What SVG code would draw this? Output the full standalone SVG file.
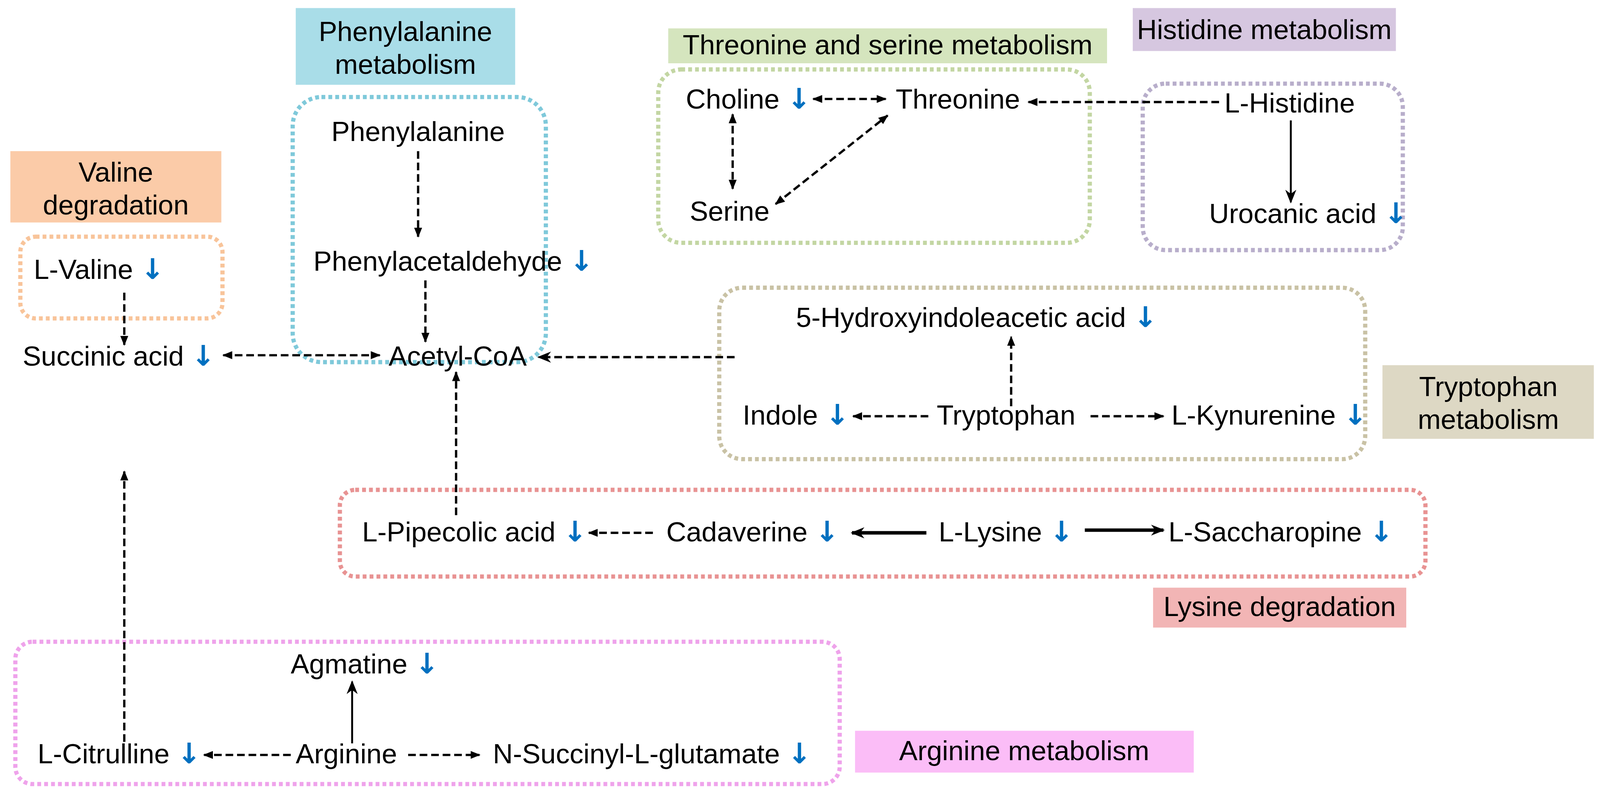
<svg xmlns="http://www.w3.org/2000/svg" width="4170" height="2071" viewBox="0 0 4170 2071">
<style>
text{font-family:"Liberation Sans",Arial,sans-serif;font-size:72px;fill:#000}
.lbl{text-anchor:middle}
.dn{font-family:"DejaVu Sans",sans-serif;font-size:74px;fill:#0070C0;font-weight:bold}
.box{fill:none;stroke-width:11;stroke-dasharray:10 8}
.d{fill:none;stroke:#000;stroke-width:6;stroke-dasharray:20 10}
.s{fill:none;stroke:#000;stroke-width:5}
.t{fill:none;stroke:#000;stroke-width:9}
</style>
<defs>
<marker id="ah" markerUnits="userSpaceOnUse" markerWidth="26" markerHeight="26" viewBox="0 0 10 10" refX="9" refY="5" orient="auto-start-reverse"><path d="M0,1 L10,5 L0,9 Z" fill="#000"/></marker>
<marker id="ah2" markerUnits="userSpaceOnUse" markerWidth="36" markerHeight="36" viewBox="0 0 10 10" refX="9" refY="5" orient="auto-start-reverse"><path d="M0,1 L10,5 L0,9 L3,5 Z" fill="#000"/></marker>
</defs>
<g transform="scale(0.982)">
<g id="labels">
<rect x="771" y="21" width="572" height="200" fill="#A9DDE8"/>
<text class="lbl" x="1057" y="107">Phenylalanine</text><text class="lbl" x="1057" y="192">metabolism</text>
<rect x="27" y="394" width="550" height="186" fill="#FBCBA8"/>
<text class="lbl" x="302" y="474">Valine</text><text class="lbl" x="302" y="559">degradation</text>
<rect x="1742" y="74" width="1144" height="91" fill="#D5E5BE"/>
<text class="lbl" x="2314" y="142">Threonine and serine metabolism</text>
<rect x="2953" y="21" width="686" height="112" fill="#D6C7E0"/>
<text class="lbl" x="3296" y="102">Histidine metabolism</text>
<rect x="3604" y="952" width="551" height="192" fill="#DDD8C4"/>
<text class="lbl" x="3880" y="1033">Tryptophan</text><text class="lbl" x="3880" y="1118">metabolism</text>
<rect x="3006" y="1532" width="660" height="104" fill="#F2B5B5"/>
<text class="lbl" x="3336" y="1606">Lysine degradation</text>
<rect x="2229" y="1905" width="883" height="109" fill="#FBBDF7"/>
<text class="lbl" x="2670" y="1982">Arginine metabolism</text>
</g>

<g id="groups">
<rect class="box" x="53" y="617" width="527" height="213" rx="40" stroke="#F8C49A"/>
<rect class="box" x="763" y="253" width="660" height="691" rx="75" stroke="#7FC9DA"/>
<rect class="box" x="1716" y="181" width="1125" height="452" rx="60" stroke="#C3D6A3"/>
<rect class="box" x="2979" y="218" width="678" height="434" rx="60" stroke="#B8AECB"/>
<rect class="box" x="1875" y="750" width="1684" height="447" rx="60" stroke="#C9C2A5"/>
<rect class="box" x="886" y="1277" width="2830" height="226" rx="40" stroke="#E89393"/>
<rect class="box" x="40" y="1673" width="2149" height="371" rx="45" stroke="#EFA3EB"/>
</g>

<g id="connectors">
<line class="d" x1="1090" y1="394" x2="1090" y2="617" marker-end="url(#ah)"/>
<line class="d" x1="1109" y1="731" x2="1109" y2="891" marker-end="url(#ah)"/>
<line class="d" x1="324" y1="763" x2="324" y2="899" marker-end="url(#ah)"/>
<line class="d" x1="582" y1="926" x2="990" y2="926" marker-start="url(#ah)" marker-end="url(#ah)"/>
<line class="d" x1="1915" y1="931" x2="1404" y2="931" marker-end="url(#ah2)"/>
<line class="d" x1="1189" y1="1343" x2="1189" y2="970" marker-end="url(#ah)"/>
<line class="d" x1="324" y1="1934" x2="324" y2="1229" marker-end="url(#ah)"/>
<line class="d" x1="2120" y1="258" x2="2309" y2="258" marker-start="url(#ah)" marker-end="url(#ah)"/>
<line class="d" x1="1910" y1="298" x2="1910" y2="492" marker-start="url(#ah)" marker-end="url(#ah)"/>
<line class="d" x1="2022" y1="532" x2="2314" y2="301" marker-start="url(#ah)" marker-end="url(#ah)"/>
<line class="d" x1="3178" y1="266" x2="2681" y2="266" marker-end="url(#ah)"/>
<line class="s" x1="3365" y1="314" x2="3365" y2="527" marker-end="url(#ah2)"/>
<line class="d" x1="2636" y1="1059" x2="2636" y2="878" marker-end="url(#ah)"/>
<line class="d" x1="2420" y1="1085" x2="2224" y2="1085" marker-end="url(#ah)"/>
<line class="d" x1="2843" y1="1085" x2="3033" y2="1085" marker-end="url(#ah)"/>
<line class="d" x1="1702" y1="1389" x2="1535" y2="1389" marker-end="url(#ah)"/>
<line class="t" x1="2415" y1="1389" x2="2221" y2="1389" marker-end="url(#ah2)"/>
<line class="t" x1="2828" y1="1382" x2="3033" y2="1382" marker-end="url(#ah2)"/>
<line class="d" x1="758" y1="1968" x2="532" y2="1968" marker-end="url(#ah)"/>
<line class="d" x1="1064" y1="1968" x2="1250" y2="1968" marker-end="url(#ah)"/>
<line class="s" x1="918" y1="1938" x2="918" y2="1777" marker-end="url(#ah2)"/>
</g>

<g id="n-phe"><text x="1090" y="368" class="lbl">Phenylalanine</text></g>
<g id="n-phald"><text x="817" y="706">Phenylacetaldehyde <tspan class="dn">↓</tspan></text></g>
<g id="n-acoa"><text x="1013" y="953">Acetyl-CoA</text></g>
<g id="n-val"><text x="88" y="727">L-Valine <tspan class="dn">↓</tspan></text></g>
<g id="n-succ"><text x="59" y="953">Succinic acid <tspan class="dn">↓</tspan></text></g>
<g id="n-chol"><text x="1788" y="283">Choline <tspan class="dn">↓</tspan></text></g>
<g id="n-thr"><text x="2335" y="283">Threonine</text></g>
<g id="n-ser"><text x="1798" y="575">Serine</text></g>
<g id="n-his"><text x="3192" y="293">L-Histidine</text></g>
<g id="n-uro"><text x="3152" y="581">Urocanic acid <tspan class="dn">↓</tspan></text></g>
<g id="n-5hiaa"><text x="2075" y="852">5-Hydroxyindoleacetic acid <tspan class="dn">↓</tspan></text></g>
<g id="n-ind"><text x="1936" y="1107">Indole <tspan class="dn">↓</tspan></text></g>
<g id="n-trp"><text x="2442" y="1107">Tryptophan</text></g>
<g id="n-kyn"><text x="3054" y="1107">L-Kynurenine <tspan class="dn">↓</tspan></text></g>
<g id="n-pip"><text x="944" y="1411">L-Pipecolic acid <tspan class="dn">↓</tspan></text></g>
<g id="n-cad"><text x="1737" y="1411">Cadaverine <tspan class="dn">↓</tspan></text></g>
<g id="n-lys"><text x="2447" y="1411">L-Lysine <tspan class="dn">↓</tspan></text></g>
<g id="n-sac"><text x="3046" y="1411">L-Saccharopine <tspan class="dn">↓</tspan></text></g>
<g id="n-agm"><text x="758" y="1756">Agmatine <tspan class="dn">↓</tspan></text></g>
<g id="n-cit"><text x="98" y="1990">L-Citrulline <tspan class="dn">↓</tspan></text></g>
<g id="n-arg"><text x="771" y="1990">Arginine</text></g>
<g id="n-nsg"><text x="1285" y="1990">N-Succinyl-L-glutamate <tspan class="dn">↓</tspan></text></g>
</g>
</svg>
